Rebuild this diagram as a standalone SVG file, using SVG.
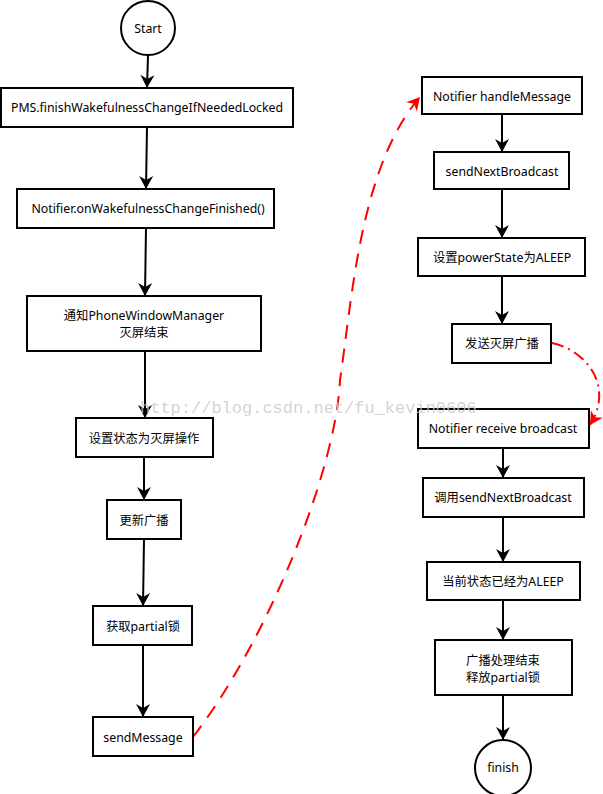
<svg xmlns="http://www.w3.org/2000/svg" width="603" height="794" viewBox="0 0 603 794">
<defs>
<style>
.box{fill:#fff;stroke:#000;stroke-width:2}
.t{font-family:"Noto Sans","Noto Sans CJK SC",sans-serif;font-size:12.3px;fill:#000;text-anchor:middle}
.edge{fill:none;stroke:#000;stroke-width:2}
.red{fill:none;stroke:#f00;stroke-width:2}
</style>
<marker id="ah" markerUnits="userSpaceOnUse" markerWidth="16" markerHeight="16" viewBox="0 -8 14 16" refX="13" refY="0" orient="auto">
<path d="M0,-7 L13,0 L0,7 L4,0 Z" fill="#000"/>
</marker>
<marker id="ahr" markerUnits="userSpaceOnUse" markerWidth="16" markerHeight="16" viewBox="0 -8 14 16" refX="13" refY="0" orient="auto">
<path d="M0,-7 L13,0 L0,7 L4,0 Z" fill="#f00"/>
</marker>
</defs>
<rect width="603" height="794" fill="#fff"/>

<g id="connectors">
<path class="edge" d="M148,55 L147,88" marker-end="url(#ah)"/>
<path class="edge" d="M147,127 L146,189" marker-end="url(#ah)"/>
<path class="edge" d="M146,228 L145,296" marker-end="url(#ah)"/>
<path class="edge" d="M145,351 L145,418" marker-end="url(#ah)"/>
<path class="edge" d="M144,457 L144,500" marker-end="url(#ah)"/>
<path class="edge" d="M144,539 L143,606" marker-end="url(#ah)"/>
<path class="edge" d="M143,645 L143,717" marker-end="url(#ah)"/>
<path class="edge" d="M502,114 L502,152" marker-end="url(#ah)"/>
<path class="edge" d="M502,189 L502,238" marker-end="url(#ah)"/>
<path class="edge" d="M502,276 L502,324" marker-end="url(#ah)"/>
<path class="edge" d="M503,448 L503,478" marker-end="url(#ah)"/>
<path class="edge" d="M503,517 L503,562" marker-end="url(#ah)"/>
<path class="edge" d="M503,600 L503,640" marker-end="url(#ah)"/>
<path class="edge" d="M503,695 L503,740" marker-end="url(#ah)"/>
<path class="red" stroke-dasharray="14 10" d="M193,737 C268,640 336,470 340,380 C352,300 360,166 420,97" marker-end="url(#ahr)"/>
<path class="red" stroke-dasharray="12 5 2 5" d="M552,343 C585,350 615,385 590,425" marker-end="url(#ahr)"/>
</g>

<g id="start"><circle cx="148" cy="28" r="27" fill="#fff" stroke="#000" stroke-width="2"/><text class="t" x="148" y="33">Start</text></g>
<g id="n1"><rect class="box" x="1" y="88" width="292" height="39"/><text class="t" x="147" y="112">PMS.finishWakefulnessChangeIfNeededLocked</text></g>
<g id="n2"><rect class="box" x="17" y="189" width="257" height="39"/><text class="t" x="148" y="213">Notifier.onWakefulnessChangeFinished()</text></g>
<g id="n3"><rect class="box" x="27" y="296" width="234" height="55"/><text class="t" x="144" y="320">通知PhoneWindowManager</text><text class="t" x="144" y="337">灭屏结束</text></g>
<g id="n4"><rect class="box" x="76" y="418" width="137" height="39"/><text class="t" x="144" y="443">设置状态为灭屏操作</text></g>
<g id="n5"><rect class="box" x="107" y="500" width="74" height="39"/><text class="t" x="144" y="525">更新广播</text></g>
<g id="n6"><rect class="box" x="93" y="606" width="99" height="39"/><text class="t" x="143" y="631">获取partial锁</text></g>
<g id="n7"><rect class="box" x="93" y="717" width="100" height="39"/><text class="t" x="143" y="742">sendMessage</text></g>

<g id="r1"><rect class="box" x="422" y="77" width="160" height="37"/><text class="t" x="502" y="101">Notifier handleMessage</text></g>
<g id="r2"><rect class="box" x="434" y="152" width="135" height="37"/><text class="t" x="502" y="176">sendNextBroadcast</text></g>
<g id="r3"><rect class="box" x="418" y="238" width="167" height="38"/><text class="t" x="502" y="262">设置powerState为ALEEP</text></g>
<g id="r4"><rect class="box" x="452" y="324" width="99" height="39"/><text class="t" x="502" y="348">发送灭屏广播</text></g>
<g id="r5"><rect class="box" x="418" y="409" width="171" height="39"/><text class="t" x="503" y="433">Notifier receive broadcast</text></g>
<g id="r6"><rect class="box" x="423" y="478" width="161" height="39"/><text class="t" x="503" y="502">调用sendNextBroadcast</text></g>
<g id="r7"><rect class="box" x="427" y="562" width="153" height="38"/><text class="t" x="503" y="586">当前状态已经为ALEEP</text></g>
<g id="r8"><rect class="box" x="435" y="640" width="137" height="55"/><text class="t" x="503" y="665">广播处理结束</text><text class="t" x="503" y="682">释放partial锁</text></g>
<g id="finish"><circle cx="503" cy="768" r="28" fill="#fff" stroke="#000" stroke-width="2"/><text class="t" x="503" y="772">finish</text></g>

<text x="140" y="413" font-family="Liberation Mono, monospace" font-size="17" fill="#c8c8c8" fill-opacity="0.8">http://blog.csdn.net/fu_kevin0606</text>
</svg>
